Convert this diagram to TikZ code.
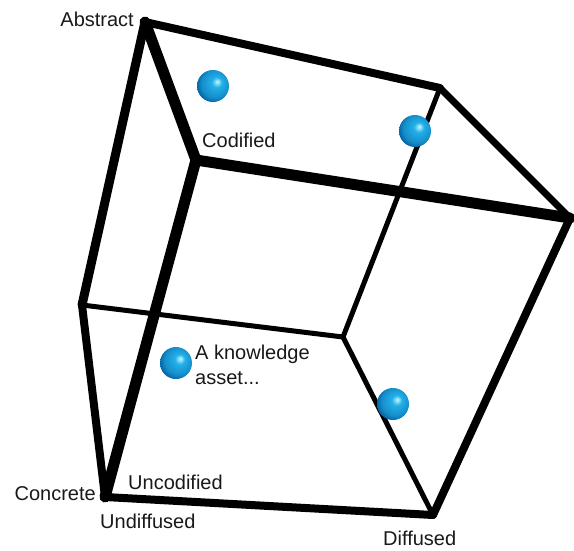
\documentclass[tikz,border=0pt]{standalone}
\usepackage{fontspec}
\setmainfont{Liberation Sans}
\definecolor{assetlight}{RGB}{195,250,255}
\definecolor{assetblue}{RGB}{35,175,232}
\definecolor{assetdark}{RGB}{0,92,158}
\pgfdeclareradialshading{assetball}{\pgfpoint{7bp}{7bp}}{color(0bp)=(assetlight); color(8bp)=(assetblue); color(22bp)=(assetblue!60!assetdark); color(30bp)=(assetdark); color(50bp)=(assetdark)}
\begin{document}
\begin{tikzpicture}[x=1pt, y=-1pt,
  edge/.style={line width=#1, line cap=round, line join=round},
  axislabel/.style={font=\fontsize{20}{25}\selectfont, text=black!90, inner sep=0pt},
  asset/.style={shading=assetball}]
\useasboundingbox (0,0) rectangle (574,550);
\coordinate (abstract) at (145,22);
\coordinate (topback) at (440,88);
\coordinate (right) at (570,218);
\coordinate (codified) at (196,160);
\coordinate (left) at (82,305);
\coordinate (inner) at (343,337);
\coordinate (concrete) at (105,497);
\coordinate (diffused) at (433,515);
\draw[edge=5] (left) -- (inner);
\draw[edge=5] (topback) -- (inner);
\draw[edge=5] (inner) -- (diffused);
\draw[edge=8] (abstract) -- (topback);
\draw[edge=7] (topback) -- (right);
\draw[edge=8] (right) -- (diffused);
\draw[edge=8] (diffused) -- (concrete);
\draw[edge=8] (concrete) -- (left);
\draw[edge=9] (left) -- (abstract);
\draw[edge=11] (abstract) -- (codified);
\draw[edge=11] (codified) -- (right);
\draw[edge=11] (codified) -- (concrete);
\shade[asset] (213,86) circle (16);
\shade[asset] (415,131) circle (16);
\shade[asset] (176,363) circle (16);
\shade[asset] (393,404) circle (16);
\node[axislabel, anchor=east] (abstractlabel) at (134,19) {Abstract};
\node[axislabel, anchor=west] (codifiedlabel) at (202,140) {Codified};
\node[axislabel, anchor=north west, align=left] (assetlabel) at (195,345) {A knowledge\\asset...};
\node[axislabel, anchor=west] (uncodifiedlabel) at (128,482) {Uncodified};
\node[axislabel, anchor=east] (concretelabel) at (96,494) {Concrete};
\node[axislabel, anchor=west] (undiffusedlabel) at (100,521) {Undiffused};
\node[axislabel, anchor=west] (diffusedlabel) at (383,538) {Diffused};
\end{tikzpicture}
\end{document}
